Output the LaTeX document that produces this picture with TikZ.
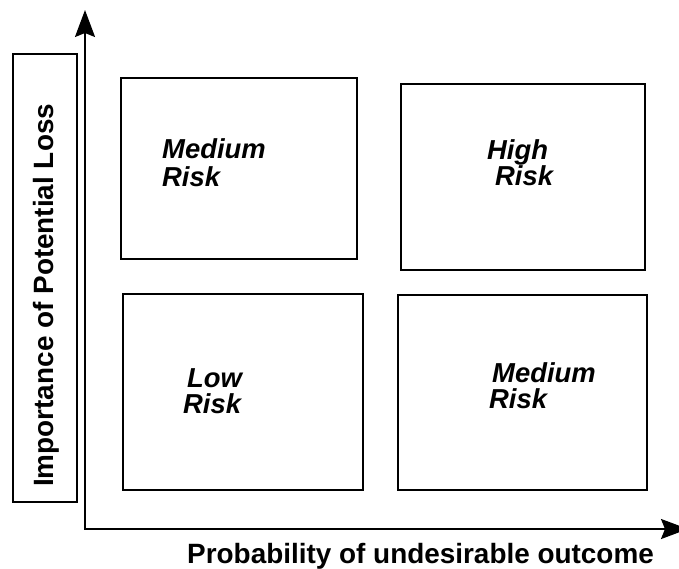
\documentclass[tikz,border=0pt]{standalone}
\usepackage{fontspec}
\setmainfont{Liberation Sans}
\usetikzlibrary{arrows.meta}
\begin{document}
\begin{tikzpicture}[>={Stealth[length=27pt,width=20pt,inset=4pt]},x=1pt,y=-1pt,
	box/.style={draw,line width=1.8pt,inner sep=0pt},
	risk/.style={anchor=base west,inner sep=0pt,font=\fontsize{27.4}{28}\selectfont\bfseries\itshape},
	axislabel/.style={anchor=base west,inner sep=0pt,font=\fontsize{27.9}{28}\selectfont\bfseries}]
	\useasboundingbox (0,0) rectangle (679,569);
	% axes
	\coordinate (O) at (85,529);
	\coordinate (ytop) at (85,10);
	\coordinate (xend) at (688,529);
	\draw[line width=1.8pt,<->] (ytop) -- (O) -- (xend);
	\node[axislabel] (xlab) at (187,563) {Probability of undesirable outcome};
	\node[box,minimum width=64pt,minimum height=448pt] (ybox) at (45,278) {};
	\node[axislabel,rotate=90] (ylab) at (53,487) {Importance of Potential Loss};
	% quadrants
	\node[box,minimum width=236pt,minimum height=181pt] (tl) at (239,168.5) {};
	\node[box,minimum width=244pt,minimum height=186pt] (tr) at (523,177) {};
	\node[box,minimum width=240pt,minimum height=196pt] (bl) at (243,392) {};
	\node[box,minimum width=249pt,minimum height=195pt] (br) at (522.5,392.5) {};
	\node[risk] (tlA) at (162,159) {Medium};
	\node[risk] (tlB) at (162,187) {Risk};
	\node[risk] (trA) at (487,160) {High};
	\node[risk] (trB) at (495,186) {Risk};
	\node[risk] (blA) at (187,387) {Low};
	\node[risk] (blB) at (183,413) {Risk};
	\node[risk] (brA) at (492,382) {Medium};
	\node[risk] (brB) at (489,408) {Risk};
\end{tikzpicture}
\end{document}
